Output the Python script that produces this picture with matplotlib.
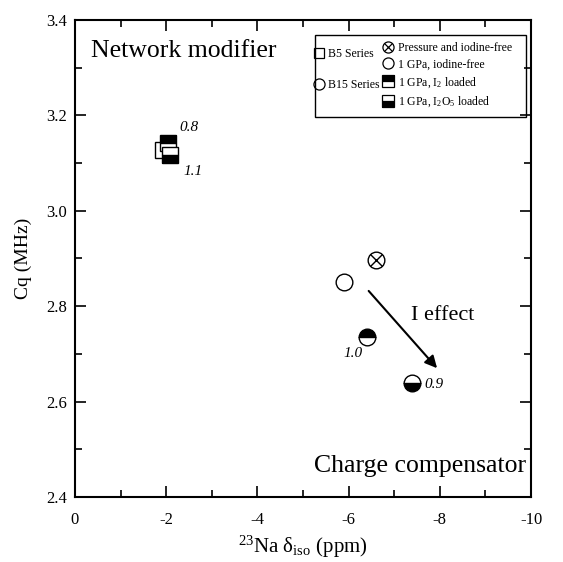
import matplotlib
matplotlib.use('Agg')
from matplotlib import pyplot as plt
from matplotlib.lines import Line2D
from matplotlib.patches import Rectangle
from matplotlib.legend_handler import HandlerTuple
from matplotlib.ticker import MultipleLocator

plt.rcParams['font.family'] = ['Liberation Serif', 'DejaVu Serif']
plt.rcParams['mathtext.fontset'] = 'custom'
plt.rcParams['mathtext.rm'] = 'Liberation Serif'
plt.rcParams['mathtext.it'] = 'Liberation Serif:italic'

# Data
conditions = ['Pressure and iodine-free', '1 GPa, iodine-free',
              r'1 GPa, I$_2$ loaded', r'1 GPa, I$_2$O$_5$ loaded']
# B5 series: no pressure-only point
b5_x = [None, -1.92, -2.05, -2.09]
b5_y = [None, 3.127, 3.143, 3.117]
b15_x = [-6.59, -5.89, -6.41, -7.39]
b15_y = [2.897, 2.850, 2.736, 2.638]

# ratio labels next to the iodine-loaded points
ratio_text = ['0.8', '1.1', '1.0', '0.9']
ratio_x = [-2.49, -2.58, -6.09, -7.88]
ratio_y = [3.174, 3.083, 2.700, 2.635]

arrow_start = (-6.44, 2.832)
arrow_end = (-7.94, 2.670)

fig = plt.figure(figsize=(5.63, 5.62), dpi=100)
ax = fig.add_axes([0.1332, 0.1157, 0.81, 0.8487])

ms_sq = 11
ms_ci = 12
# marker style for each condition
styles = [
    dict(fillstyle='none'),
    dict(fillstyle='none'),
    dict(fillstyle='top', markerfacecolor='k', markerfacecoloralt='w'),
    dict(fillstyle='bottom', markerfacecolor='k', markerfacecoloralt='w'),
]

for i in range(4):
    if b5_x[i] is not None:
        ax.plot(b5_x[i], b5_y[i], 's', ms=ms_sq, mec='k', mew=1.0,
                **styles[i], zorder=3 + i)
    ax.plot(b15_x[i], b15_y[i], 'o', ms=ms_ci, mec='k', mew=1.0,
            **styles[i], zorder=3 + i)
# cross inside the pressure point
ax.plot(b15_x[0], b15_y[0], 'x', ms=ms_ci * 0.72, mec='k', mew=1.0, zorder=4)

for t, x, y in zip(ratio_text, ratio_x, ratio_y):
    ax.text(x, y, t, fontsize=11, style='italic', ha='center', va='center')

ax.annotate('', xy=arrow_end, xytext=arrow_start,
            arrowprops=dict(arrowstyle='-|>', lw=1.5, color='k',
                            mutation_scale=18, shrinkA=0, shrinkB=0))
ax.text(-8.06, 2.78, 'I effect', fontsize=16, ha='center', va='center')

ax.text(0.035, 0.935, 'Network modifier', transform=ax.transAxes,
        fontsize=18.5, ha='left', va='center')
ax.text(0.99, 0.065, 'Charge compensator', transform=ax.transAxes,
        fontsize=18.5, ha='right', va='center')

# axes
ax.set_xlim(0, -10)
ax.set_ylim(2.4, 3.4)
ax.xaxis.set_major_locator(MultipleLocator(2))
ax.xaxis.set_minor_locator(MultipleLocator(1))
ax.yaxis.set_major_locator(MultipleLocator(0.2))
ax.yaxis.set_minor_locator(MultipleLocator(0.1))
ax.set_yticks([2.4, 2.6, 2.8, 3.0, 3.2, 3.4])
ax.set_yticklabels(['2.4', '2.6', '2.8', '3.0', '3.2', '3.4'])
ax.set_xticks([0, -2, -4, -6, -8, -10])
ax.set_xticklabels(['0', '-2', '-4', '-6', '-8', '-10'])
ax.tick_params(which='both', direction='in', top=True, right=True,
               labelsize=12, width=1.2)
ax.tick_params(which='major', length=8)
ax.tick_params(axis='x', which='major', pad=11)
ax.tick_params(axis='y', which='major', pad=6)
ax.tick_params(which='minor', length=5)
for s in ax.spines.values():
    s.set_linewidth(1.5)

ax.set_ylabel('Cq (MHz)', fontsize=14, labelpad=10)
ax.set_xlabel(r'$^{23}$Na δ$_{\mathrm{iso}}$ (ppm)', fontsize=15, labelpad=4)

# legend: series column and condition column inside one frame
series_handles = [
    Line2D([], [], ls='none', marker='s', ms=7, mec='k', mfc='none', mew=0.9),
    Line2D([], [], ls='none', marker='o', ms=8, mec='k', mfc='none', mew=0.9),
]
leg1 = ax.legend(series_handles, ['B5 Series', 'B15 Series'],
                 loc='upper left', bbox_to_anchor=(0.515, 0.951),
                 frameon=False, fontsize=8.5, handlelength=0.8,
                 handletextpad=0.3, labelspacing=1.6, borderaxespad=0)
ax.add_artist(leg1)

cond_handles = []
for i in range(4):
    h = Line2D([], [], ls='none', marker='o' if i < 2 else 's', ms=8,
               mec='k', mew=0.9, **styles[i])
    if i == 0:
        h = (h, Line2D([], [], ls='none', marker='x', ms=5.5, mec='k', mew=0.9))
    cond_handles.append(h)
leg2 = ax.legend(cond_handles, conditions, loc='upper left',
                 bbox_to_anchor=(0.665, 0.964), frameon=False, fontsize=8.5,
                 handlelength=0.8, handletextpad=0.5, labelspacing=0.4,
                 borderaxespad=0, handler_map={tuple: HandlerTuple(ndivide=1)})

ax.add_patch(Rectangle((0.526, 0.797), 0.463, 0.172, transform=ax.transAxes,
                       fill=False, ec='k', lw=1.0, zorder=5))

fig.savefig('out.png', dpi=100)
